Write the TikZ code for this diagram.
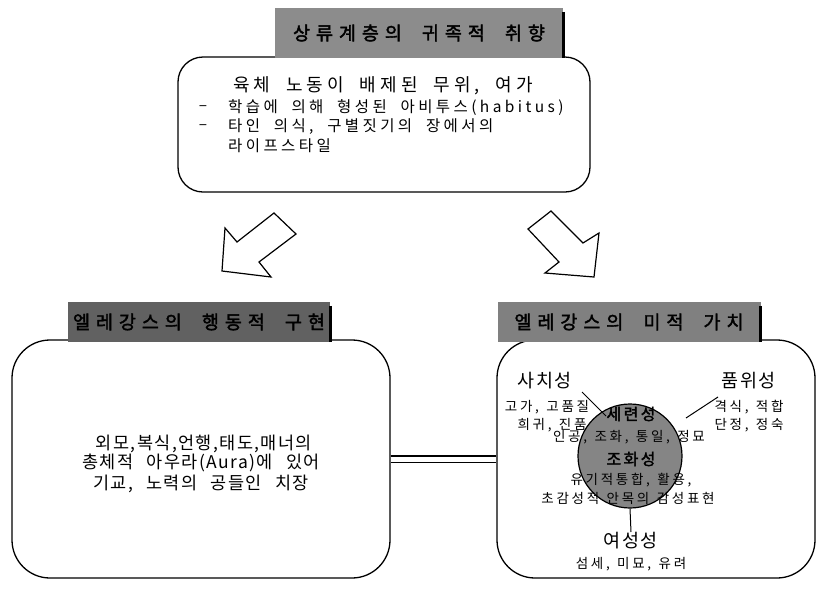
\documentclass[tikz,border=0pt]{standalone}
\usepackage{fontspec}
\setmainfont{Noto Sans CJK KR}
\newfontfamily\kr[LetterSpace=22,WordSpace=2]{Noto Sans CJK KR}
\newfontfamily\krl[LetterSpace=8,WordSpace=2.5]{Noto Sans CJK KR}
\newfontfamily\krs[LetterSpace=20,WordSpace=1.3]{Noto Sans CJK KR}
\newfontfamily\krb[LetterSpace=32,WordSpace=2,FakeBold=2]{Noto Sans CJK KR}
\newfontfamily\krc[LetterSpace=15,FakeBold=2]{Noto Sans CJK KR}
\begin{document}
\begin{tikzpicture}[x=1pt,y=-1pt,
  box/.style={draw, line width=1.3pt, rounded corners=30pt, inner sep=0pt},
  hdr/.style={inner sep=0pt, font=\krb\fontsize{18.5}{18.5}\selectfont},
  txt/.style={inner sep=0pt, font=\kr\fontsize{15.5}{15.5}\selectfont},
  big/.style={inner sep=0pt, font=\kr\fontsize{18}{18}\selectfont},
  ltxt/.style={inner sep=0pt, font=\krl\fontsize{17.5}{17.5}\selectfont},
  lbl/.style={inner sep=0pt, font=\krl\fontsize{18.5}{18.5}\selectfont},
  sml/.style={inner sep=0pt, font=\krs\fontsize{13.5}{13.5}\selectfont},
  ctitle/.style={inner sep=0pt, font=\krc\fontsize{16}{16}\selectfont},
  arr/.style={draw, line width=1.2pt, fill=white, line join=miter},
  shadowbar/.style={line width=3pt}
]
\useasboundingbox (0,0) rectangle (823,590);

% top block
\node[box, rounded corners=25pt, minimum width=412pt, minimum height=135pt] (topbox) at (384,124.5) {};
\node[hdr, fill=black!45, minimum width=288pt, minimum height=50pt] (toph) at (419,33) {상류계층의 귀족적 취향};
\draw[shadowbar] ([yshift=-4pt]toph.north east) -- (toph.south east);

\node[big] (t1) at (383,86) {육체 노동이 배제된 무위, 여가};
\node[txt] (d2) at (203,108) {–};
\node[txt, anchor=west] (t2) at (228,108) {학습에 의해 형성된 아비투스(habitus)};
\node[txt] (d3) at (203,127) {–};
\node[txt, anchor=west] (t3) at (228,127) {타인 의식, 구별짓기의 장에서의};
\node[txt, anchor=west] (t4) at (228,146) {라이프스타일};

% arrows
\draw[arr] (274,213) -- (296,234) -- (259,262) -- (271,277) -- (222,271) -- (225,228) -- (237,242) -- cycle;
\draw[arr] (551,211) -- (528,229) -- (559,262) -- (545,273) -- (594,277) -- (599,233) -- (583,243) -- cycle;

% lower boxes
\node[box, rounded corners=38pt, minimum width=378pt, minimum height=238pt] (L) at (201,459) {};
\node[box, rounded corners=38pt, minimum width=318pt, minimum height=238pt] (R) at (656,459) {};
\draw[line width=1.2pt, double, double distance=5pt] (L.east) -- (R.west);

\node[hdr, fill=black!62, minimum width=262pt, minimum height=40pt] (Lh) at (199,322) {엘레강스의 행동적 구현};
\draw[shadowbar] ([yshift=-4pt]Lh.north east) -- (Lh.south east);
\node[hdr, fill=black!50, minimum width=263pt, minimum height=40pt] (Rh) at (629,322) {엘레강스의 미적 가치};
\draw[shadowbar] ([yshift=-4pt]Rh.north east) -- (Rh.south east);

\node[ltxt] (l1) at (204,444) {외모,복식,언행,태도,매너의};
\node[ltxt] (l2) at (201,463) {총체적 아우라(Aura)에 있어};
\node[ltxt] (l3) at (201,484) {기교, 노력의 공들인 치장};

% right box content
\node[circle, draw, line width=1.2pt, fill=black!48, minimum size=104pt, inner sep=0pt] (C) at (630,456) {};
\node[lbl] (sachi) at (545,381) {사치성};
\node[sml] (s1) at (547,407) {고가, 고품질};
\node[sml] (s2) at (552,425) {희귀, 진품};
\node[lbl] (pum) at (749,381) {품위성};
\node[sml] (p1) at (749,407) {격식, 적합};
\node[sml] (p2) at (749,425) {단정, 정숙};
\node[ctitle] (se) at (631,414) {세련성};
\node[sml] (se1) at (629,437) {인공, 조화, 통일, 정묘};
\node[ctitle] (jo) at (631,459) {조화성};
\node[sml] (jo1) at (631,480) {유기적통합, 활용,};
\node[sml] (jo2) at (628,498) {초감성적 안목의 감성표현};
\node[lbl, anchor=north] (yeo) at (631,532) {여성성};
\node[sml] (yeo1) at (631,564) {섬세, 미묘, 유려};

\coordinate (a1) at (582,392);
\coordinate (a2) at (606,416);
\coordinate (b1) at (718,397);
\coordinate (b2) at (686,418);
\draw[line width=1pt] (a1) -- (a2);
\draw[line width=1pt] (b1) -- (b2);
\draw[line width=1pt] (C.south) -- (yeo.north);
\end{tikzpicture}
\end{document}
